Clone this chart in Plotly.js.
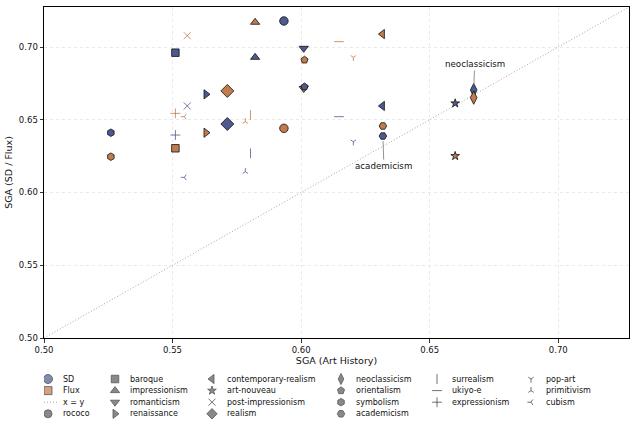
<!DOCTYPE html>
<html><head><meta charset="utf-8">
<script src="https://cdn.plot.ly/plotly-3.0.1.min.js"></script>
<style>html,body{margin:0;padding:0;background:#fff}#chart{width:636px;height:426px}</style>
</head><body><div id="chart"></div>
<script>
// ---------------- data ----------------
const categories = ["rococo","baroque","impressionism","romanticism","renaissance","contemporary-realism","art-nouveau","post-impressionism","realism","neoclassicism","orientalism","symbolism","academicism","surrealism","ukiyo-e","expressionism","pop-art","primitivism","cubism"];
const sgaArtHistory = [0.5933,0.5511,0.5821,0.6010,0.5630,0.6316,0.6599,0.5557,0.5713,0.6671,0.6013,0.5260,0.6318,0.5803,0.6147,0.5511,0.6203,0.5783,0.5546];
const sgaSD         = [0.7179,0.6961,0.6929,0.6991,0.6675,0.6595,0.6613,0.6595,0.6471,0.6704,0.6727,0.6411,0.6388,0.6269,0.6521,0.6395,0.6349,0.6143,0.6104];
const sgaFlux       = [0.6441,0.6304,0.7170,0.6715,0.6411,0.7089,0.6251,0.7078,0.6698,0.6652,0.6911,0.6246,0.6457,0.6533,0.7037,0.6544,0.6929,0.6487,0.6521];
const seriesNames = ["SD","Flux"];
const tickVals = [0.50,0.55,0.60,0.65,0.70];
const tickText = ["0.50","0.55","0.60","0.65","0.70"];
const axisRange = [0.5,0.7275];
const annotated = ["neoclassicism","academicism"];

// ---------------- styles ----------------
const C_SD = "#4d5a90", C_FLUX = "#c27b4d";
const style = {
  "rococo":{s:"circle",z:8.5},
  "baroque":{s:"square",z:7.5},
  "impressionism":{s:"triangle-up",z:8},
  "romanticism":{s:"triangle-down",z:8},
  "renaissance":{s:"triangle-right",z:8},
  "contemporary-realism":{s:"triangle-left",z:8},
  "art-nouveau":{s:"star",z:6.5},
  "post-impressionism":{s:"x-thin-open",z:7,o:true},
  "realism":{s:"diamond",z:10},
  "neoclassicism":{s:"diamond-tall",z:9.5},
  "orientalism":{s:"pentagon",z:7.5},
  "symbolism":{s:"hexagon",z:7.5},
  "academicism":{s:"hexagon2",z:7.5},
  "surrealism":{s:"line-ns-open",z:7,o:true},
  "ukiyo-e":{s:"line-ew-open",z:7,o:true},
  "expressionism":{s:"cross-thin-open",z:7,o:true},
  "pop-art":{s:"y-down-open",z:4.5,o:true},
  "primitivism":{s:"y-up-open",z:4.5,o:true},
  "cubism":{s:"y-left-open",z:4.5,o:true}
};

const traces = [];
// x = y reference line
traces.push({x:axisRange, y:axisRange, mode:"lines", line:{color:"#a8a8a8", width:1, dash:"1px,2px"}, hoverinfo:"skip", showlegend:false});

categories.forEach((c,i)=>{
  const st = style[c];
  traces.push({
    x:[sgaArtHistory[i], sgaArtHistory[i]],
    y:[sgaSD[i], sgaFlux[i]],
    text:[seriesNames[0], seriesNames[1]],
    name:c, mode:"markers", showlegend:false,
    marker:{symbol:st.s, size:st.z, color:[C_SD, C_FLUX],
            opacity: st.o ? 0.8 : 1,
            line: st.o ? {width:1} : {color:"#111", width:0.8}}
  });
});

// ---------------- manual legend (in pixel space of a hidden subplot) ----------------
const legendEntries = [
  {label:seriesNames[0], s:"circle", z:9, col:C_SD, lw:0.8},
  {label:seriesNames[1], s:"square", z:8, col:C_FLUX, lw:0.8},
  {label:"x = y", line:true}
].concat(categories.map(c=>({label:c, s:style[c].s, z:style[c].o?style[c].z:Math.min(style[c].z,8), col:style[c].o?"#333":"#585858", lw:style[c].o?1:0.8})));

// column-major fill, 6 columns, first columns take the extra rows
const nCol = 6, nEnt = legendEntries.length;
const base = Math.floor(nEnt/nCol), extra = nEnt % nCol;
const colSizes = Array.from({length:nCol}, (_,k)=> base + (k<extra?1:0));
const colX = [48,115,212,341,437,531];
const rowY = [379,390.6,402.2,413.8];
const lx=[], ly=[], ls=[], lz=[], lc=[], llw=[];
const legendAnn = [];
let idx = 0;
colSizes.forEach((n,col)=>{
  for(let row=0; row<n; row++, idx++){
    const e = legendEntries[idx];
    const px = colX[col], py = rowY[row];
    if(e.line){
      traces.push({x:[px-10,px+9], y:[py,py], xaxis:"x2", yaxis:"y2", mode:"lines",
        line:{color:"#a8a8a8", width:1, dash:"1px,2px"}, hoverinfo:"skip", showlegend:false});
    } else {
      lx.push(px); ly.push(py); ls.push(e.s); lz.push(e.z); lc.push(e.col); llw.push(e.lw);
    }
    legendAnn.push({x:px+13, y:py, xref:"x2", yref:"y2", text:e.label, showarrow:false,
      xanchor:"left", yanchor:"middle", font:{size:8, color:"#111"}});
  }
});
traces.push({x:lx, y:ly, xaxis:"x2", yaxis:"y2", mode:"markers", hoverinfo:"skip", showlegend:false,
  marker:{symbol:ls, size:lz, color:lc, line:{color:"#111", width:llw}}});

// ---------------- annotations for labelled points ----------------
const pointAnn = [];
const offsets = {"neoclassicism":[1,-26], "academicism":[1,30]};
annotated.forEach(c=>{
  const i = categories.indexOf(c);
  pointAnn.push({x:sgaArtHistory[i], y:sgaSD[i], xref:"x", yref:"y", text:c,
    showarrow:true, arrowhead:0, arrowwidth:0.8, arrowcolor:"#777", standoff:5,
    ax:offsets[c][0], ay:offsets[c][1], font:{size:8.7, color:"#111"}});
});

const H = 426, mt = 7, mb = 5;
const paperH = H - mt - mb;
const layout = {
  width:636, height:426,
  margin:{l:44, r:7, t:mt, b:mb},
  paper_bgcolor:"#fff", plot_bgcolor:"#fff",
  font:{family:"DejaVu Sans, sans-serif", color:"#111", size:8.5},
  showlegend:false,
  xaxis:{range:axisRange, domain:[0,1], tickvals:tickVals, ticktext:tickText,
    showline:true, mirror:true, linecolor:"#000", linewidth:1,
    ticks:"outside", ticklen:3.5, tickcolor:"#000", tickwidth:0.8,
    showgrid:true, gridcolor:"#e3e3e3", gridwidth:0.8, griddash:"dot", zeroline:false,
    tickfont:{size:8.5},
    title:{text:"SGA (Art History)", font:{size:9.5}, standoff:3}},
  yaxis:{range:axisRange, domain:[(H-mb-338)/paperH,1], tickvals:tickVals, ticktext:tickText,
    showline:true, mirror:true, linecolor:"#000", linewidth:1,
    ticks:"outside", ticklen:3.5, tickcolor:"#000", tickwidth:0.8,
    showgrid:true, gridcolor:"#e3e3e3", gridwidth:0.8, griddash:"dot", zeroline:false,
    tickfont:{size:8.5},
    title:{text:"SGA (SD / Flux)", font:{size:9.5}, standoff:4}},
  xaxis2:{domain:[0,1], range:[44,629], visible:false, fixedrange:true, anchor:"y2"},
  yaxis2:{domain:[0,(H-mb-368)/paperH], range:[H-mb, 368], visible:false, fixedrange:true, anchor:"x2"},
  annotations: pointAnn.concat(legendAnn)
};

Plotly.newPlot("chart", traces, layout, {staticPlot:true, displayModeBar:false});
</script>
</body></html>
